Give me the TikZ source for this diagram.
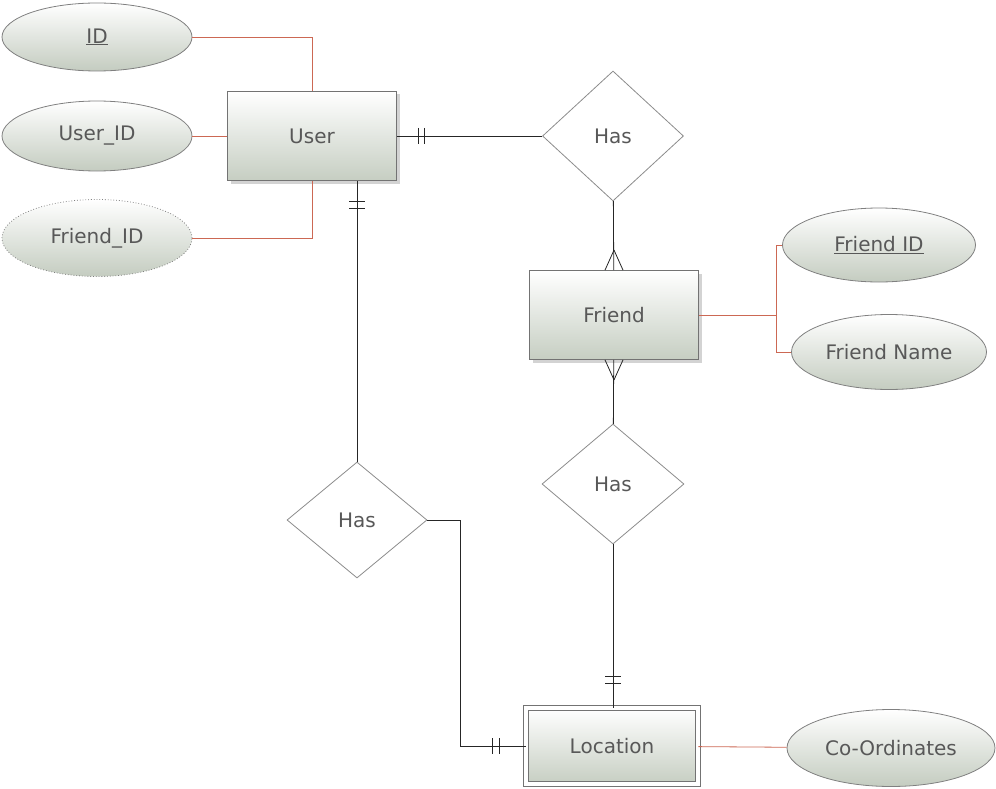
\documentclass[tikz,border=0pt]{standalone}
\usepackage{fontspec}
\setmainfont{DejaVu Sans}
\usepackage{tikz}
\usetikzlibrary{shadows}
\usetikzlibrary{positioning}
\usetikzlibrary{shapes.geometric}
\usetikzlibrary{calc}
\definecolor{labelgray}{RGB}{88,88,88}
\definecolor{boxbottom}{RGB}{198,206,194}
\definecolor{ellbottom}{RGB}{196,204,192}
\definecolor{attrline}{RGB}{204,104,84}
\tikzstyle{entity}=[rectangle,draw=black!55,line width=0.8pt,top color=white,bottom color=boxbottom,minimum width=169pt,minimum height=89pt,inner sep=0pt,text=labelgray,font=\fontsize{20}{22}\selectfont,drop shadow={shadow xshift=3pt,shadow yshift=-3pt,opacity=.35}]
\tikzstyle{weakentity}=[entity,double=white,double distance=4pt,minimum width=172pt,minimum height=76pt]
\tikzstyle{attribute}=[ellipse,draw=black!50,line width=0.8pt,top color=white,bottom color=ellbottom,inner sep=0pt,text=labelgray,font=\fontsize{20}{22}\selectfont]
\tikzstyle{relation}=[diamond,draw=black!45,line width=0.8pt,fill=white,inner sep=0pt,text=labelgray,font=\fontsize{20}{22}\selectfont]
\tikzstyle{rel} = [draw,line width=0.8pt,black!85]
\tikzstyle{attr} = [draw,line width=0.8pt,attrline]

\begin{document}
\begin{tikzpicture}[x=1pt,y=-1pt]
  \useasboundingbox (0,0) rectangle (996,789);

  % entities
  \foreach \x/\y/\name/\label in {312/136/user/User, 614/315/friend/Friend}
          \node[entity] (\name) at (\x,\y) {\label};
  \node[weakentity] (location) at (612,746) {Location};

  % attributes
  \foreach \x/\y/\w/\h/\name/\label in {97/37/190/68/id/{\underline{ID}},
                                        97/136/190/70/userid/{User\_ID},
                                        879/245/193/74/fkey/{\underline{Friend ID}},
                                        889/352/195/75/fname/{Friend Name},
                                        891/748/208/77/coords/{Co-Ordinates}}
          \node[attribute,minimum width=\w pt,minimum height=\h pt] (\name) at (\x,\y) {\label};
  \node[attribute,dotted,minimum width=190pt,minimum height=77pt] (friendid) at (97,238) {Friend\_ID};

  % relationships
  \foreach \x/\y/\w/\h/\name in {613/136/141/130/hasfriend, 613/484/142/120/friendloc, 357/520/140/116/userloc}
          \node[relation,minimum width=\w pt,minimum height=\h pt] (\name) at (\x,\y) {Has};

  % attribute links
  \coordinate (fjoin) at (776,315);
  \coordinate (ujoin) at (460,520);
  \path[attr] (id) -| (user);
  \path[attr] (userid) -- (user);
  \path[attr] (friendid) -| (user);
  \path[attr] (friend) -- (fjoin);
  \path[attr] (fkey) -| (fjoin);
  \path[attr] (fname) -| (fjoin);
  \path[attr] (location) -- (coords);

  % relationship links
  \path[rel] (user) -- (hasfriend);
  \path[rel] (hasfriend) -- (friend);
  \path[rel] (friend) -- (friendloc);
  \path[rel] (friendloc) -- (friendloc |- location.north);
  \path[rel] (userloc) -- (userloc |- user.south);
  \path[rel] (userloc) -- (ujoin) |- (location);

  % one-and-only-one marks
  \foreach \d in {21,27}
         \draw[rel] ($(user.east)+(\d,-8)$) -- ++(0,16);
  \foreach \d in {20,27}
         \draw[rel] ($(userloc |- user.south)+(-8,\d)$) -- ++(16,0);
  \foreach \d in {-31,-24}
         \draw[rel] ($(friendloc |- location.north)+(-8,\d)$) -- ++(16,0);
  \foreach \d in {-33,-26}
         \draw[rel] ($(location.west)+(\d,-8)$) -- ++(0,16);

  % many marks on friend
  \foreach \s in {-9,9} {
         \draw[rel] ($(friend.north)+(0,-20)$) -- ($(friend.north)+(\s,0)$);
         \draw[rel] ($(friend.south)+(0,20)$) -- ($(friend.south)+(\s,0)$);
  }

\end{tikzpicture}
\end{document}
